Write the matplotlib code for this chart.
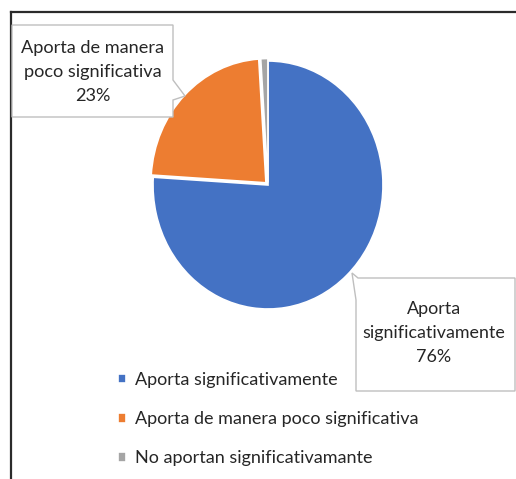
import matplotlib
matplotlib.use("Agg")
import matplotlib.pyplot as plt
from matplotlib.patches import Polygon
from matplotlib.lines import Line2D

categories = ["Aporta significativamente",
              "Aporta de manera poco significativa",
              "No aportan significativamante"]
values = [76, 23, 1]
colors = ["#4472C4", "#ED7D31", "#A5A5A5"]
label_blue = "Aporta\nsignificativamente\n76%"
label_orange = "Aporta de manera\npoco significativa\n23%"

W, H = 516, 479
fig = plt.figure(figsize=(W / 100, H / 100), dpi=100)
plt.rcParams['font.family'] = ['Lato', 'DejaVu Sans']
TXT = "#262626"

def fx(x):
    return x / W

def fy(y):
    return 1 - y / H

# outer frame (top and left edges visible)
fig.add_artist(Line2D([fx(11), fx(W)], [fy(12), fy(12)], color="#2b2b2b", lw=1.6))
fig.add_artist(Line2D([fx(11), fx(11)], [fy(12), fy(H)], color="#2b2b2b", lw=1.6))

# pie axes
cx, cy, rx, ry = 268, 185, 115, 124
ax = fig.add_axes([fx(cx - rx), fy(cy + ry), 2 * rx / W, 2 * ry / H])
wedges, _ = ax.pie(values, colors=colors, startangle=90, counterclock=False,
                   explode=[0, 0.025, 0.02],
                   wedgeprops=dict(edgecolor="white", linewidth=1.2))
for w in wedges:
    w.set_clip_on(False)
ax.set_xlim(-1.0, 1.0)
ax.set_ylim(-1.0, 1.0)
ax.set_aspect("auto")
ax.axis("off")

# callout boxes
def callout(pts):
    poly = Polygon([(fx(x), fy(y)) for x, y in pts], closed=True,
                   facecolor="white", edgecolor="#BFBFBF", lw=1.0,
                   transform=fig.transFigure, zorder=5)
    fig.add_artist(poly)

callout([(12, 25), (173, 25), (173, 80), (185, 96), (173, 100), (173, 117), (12, 117)])
callout([(352, 273), (358, 278), (515, 278), (515, 391), (356, 391), (356, 300)])

fig.canvas.draw()
renderer = fig.canvas.get_renderer()

def fit_text(x, y, s, target_w, ref_line, **kw):
    t = fig.text(fx(x), fy(y), s, ha="center", va="center", color=TXT,
                 fontsize=11, zorder=6, **kw)
    probe = fig.text(0, 0, ref_line, fontsize=11)
    w = probe.get_window_extent(renderer).width
    probe.remove()
    t.set_fontsize(11 * target_w / w)
    return t

fit_text(92.5, 72, label_orange, 143, "Aporta de manera", linespacing=1.62)
fit_text(434, 333, label_blue, 142, "significativamente", linespacing=1.62)

# legend
probe = fig.text(0, 0, categories[1], fontsize=11)
lw_ = probe.get_window_extent(renderer).width
probe.remove()
lfs = 11 * 284 / lw_
leg = fig.legend(wedges, categories, loc="upper left",
                 bbox_to_anchor=(fx(118), fy(372)), frameon=False,
                 fontsize=lfs, handlelength=0.45, handleheight=0.45,
                 handletextpad=0.5, labelspacing=1.28, borderaxespad=0,
                 borderpad=0)
for t in leg.get_texts():
    t.set_color(TXT)

fig.savefig("out.png", dpi=100, facecolor="white")
